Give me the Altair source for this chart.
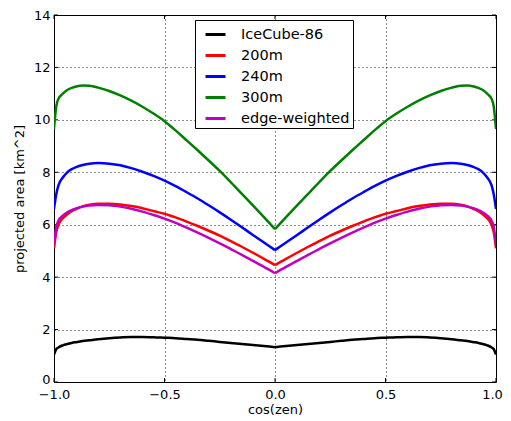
import altair as alt
import pandas as pd

x_vals = [-1.0, -0.99, -0.98, -0.96, -0.94, -0.92, -0.9, -0.87, -0.84, -0.8, -0.75, -0.7, -0.65,
          -0.6, -0.55, -0.5, -0.45, -0.4, -0.35, -0.3, -0.25, -0.2, -0.15, -0.1, -0.05, 0.0,
          0.05, 0.1, 0.15, 0.2, 0.25, 0.3, 0.35, 0.4, 0.45, 0.5, 0.55, 0.6, 0.65, 0.7, 0.75,
          0.8, 0.84, 0.87, 0.9, 0.92, 0.94, 0.96, 0.98, 0.99, 1.0]

icecube = [1.05, 1.25, 1.32, 1.4, 1.45, 1.49, 1.52, 1.56, 1.59, 1.63, 1.67, 1.7, 1.72,
           1.72, 1.71, 1.69, 1.67, 1.64, 1.61, 1.57, 1.53, 1.49, 1.45, 1.41, 1.37, 1.33,
           1.37, 1.41, 1.45, 1.49, 1.53, 1.57, 1.61, 1.64, 1.67, 1.69, 1.71, 1.72, 1.72, 1.7, 1.67,
           1.63, 1.59, 1.56, 1.52, 1.49, 1.45, 1.4, 1.32, 1.25, 1.05]
m200 = [5.1, 5.7, 6.0, 6.25, 6.4, 6.52, 6.6, 6.7, 6.76, 6.8, 6.8, 6.77, 6.71,
        6.63, 6.52, 6.42, 6.28, 6.12, 5.95, 5.77, 5.58, 5.37, 5.16, 4.93, 4.7, 4.46,
        4.7, 4.93, 5.16, 5.37, 5.58, 5.77, 5.95, 6.12, 6.28, 6.42, 6.52, 6.63, 6.71, 6.77, 6.8,
        6.8, 6.76, 6.7, 6.6, 6.52, 6.4, 6.25, 6.0, 5.7, 5.1]
m240 = [6.6, 7.15, 7.5, 7.8, 8.0, 8.12, 8.2, 8.28, 8.33, 8.35, 8.33, 8.27, 8.16,
        8.02, 7.86, 7.68, 7.47, 7.24, 7.0, 6.74, 6.47, 6.19, 5.9, 5.61, 5.32, 5.03,
        5.32, 5.61, 5.9, 6.19, 6.47, 6.74, 7.0, 7.24, 7.47, 7.68, 7.86, 8.02, 8.16, 8.27, 8.33,
        8.35, 8.33, 8.28, 8.2, 8.12, 8.0, 7.8, 7.5, 7.15, 6.6]
m300 = [9.65, 10.5, 10.8, 11.0, 11.14, 11.22, 11.27, 11.31, 11.3, 11.23, 11.1, 10.93, 10.73,
        10.5, 10.24, 9.95, 9.6, 9.22, 8.84, 8.45, 8.05, 7.62, 7.18, 6.74, 6.29, 5.83,
        6.29, 6.74, 7.18, 7.62, 8.05, 8.45, 8.84, 9.22, 9.6, 9.95, 10.24, 10.5, 10.73, 10.93, 11.1,
        11.23, 11.3, 11.31, 11.27, 11.22, 11.14, 11.0, 10.8, 10.5, 9.65]
edge = [5.25, 5.9, 6.15, 6.35, 6.47, 6.56, 6.62, 6.69, 6.73, 6.75, 6.74, 6.69, 6.61,
        6.5, 6.37, 6.23, 6.07, 5.89, 5.7, 5.5, 5.29, 5.07, 4.85, 4.62, 4.39, 4.15,
        4.39, 4.62, 4.85, 5.07, 5.29, 5.5, 5.7, 5.89, 6.07, 6.23, 6.37, 6.5, 6.61, 6.69, 6.74,
        6.75, 6.73, 6.69, 6.62, 6.56, 6.47, 6.35, 6.15, 5.9, 5.25]

series_names = ["IceCube-86", "200m", "240m", "300m", "edge-weighted"]
series_colors = ["#000000", "#ff0000", "#0000ff", "#008000", "#bf00bf"]
series_values = [icecube, m200, m240, m300, edge]

x_ticks = [-1.0, -0.5, 0.0, 0.5, 1.0]
y_ticks = [0, 2, 4, 6, 8, 10, 12, 14]

# each curve is split into its left and right half at the cusp (x = 0),
# so the smooth interpolation keeps the sharp V at the centre
rows = []
for name, vals in zip(series_names, series_values):
    for i, (xv, yv) in enumerate(zip(x_vals, vals)):
        if xv <= 0:
            rows.append({"series": name, "x": xv, "y": yv, "i": i, "part": name + "-L"})
        if xv >= 0:
            rows.append({"series": name, "x": xv, "y": yv, "i": i, "part": name + "-R"})
df = pd.DataFrame(rows)

W, H = 442, 367
FONT = "DejaVu Sans"

xscale = alt.Scale(domain=[-1, 1], nice=False, zero=False)
yscale = alt.Scale(domain=[0, 14], nice=False)

lines = alt.Chart(df).mark_line(strokeWidth=2.5, clip=True, interpolate="monotone").encode(
    x=alt.X("x:Q", scale=xscale, title="cos(zen)",
            axis=alt.Axis(values=x_ticks, labelFlush=False, labelOverlap=False, labelPadding=6,
                          labelOffset={"condition": {"test": "datum.value == 1", "value": -4},
                                       "value": 0},
                          labelExpr="replace(format(datum.value, '.1f'), '-', '\u2212')")),
    y=alt.Y("y:Q", scale=yscale, title="projected area [km^2]",
            axis=alt.Axis(values=y_ticks, format="d", labelFlush=False, labelOverlap=False,
                          labelOffset={"condition": {"test": "datum.value == 0", "value": -3},
                                       "value": 0})),
    color=alt.Color("series:N",
                    scale=alt.Scale(domain=series_names, range=series_colors),
                    legend=alt.Legend(title=None, orient="none", legendX=141, legendY=5,
                                      symbolType="stroke", symbolSize=400, symbolStrokeWidth=3,
                                      labelFontSize=14.5, labelFont=FONT, labelColor="black",
                                      strokeColor="black", fillColor="white", padding=3,
                                      symbolOffset=6, labelOffset=14, rowPadding=3,
                                      cornerRadius=0)),
    detail="part:N",
    order="i:Q",
)

xt = pd.DataFrame({"t": x_ticks})
yt = pd.DataFrame({"t": y_ticks})
xb = alt.Chart(xt).mark_rule(color="black", strokeWidth=1).encode(
    x=alt.X("t:Q", scale=xscale), y=alt.value(H), y2=alt.value(H - 4))
xtp = alt.Chart(xt).mark_rule(color="black", strokeWidth=1).encode(
    x=alt.X("t:Q", scale=xscale), y=alt.value(0), y2=alt.value(4))
yl = alt.Chart(yt).mark_rule(color="black", strokeWidth=1).encode(
    y=alt.Y("t:Q", scale=yscale), x=alt.value(0), x2=alt.value(4))
yr = alt.Chart(yt).mark_rule(color="black", strokeWidth=1).encode(
    y=alt.Y("t:Q", scale=yscale), x=alt.value(W), x2=alt.value(W - 4))

chart = alt.layer(xb, xtp, yl, yr, lines).properties(
    width=W, height=H,
    autosize=alt.AutoSizeParams(type="none"),
    padding={"left": 46, "top": 7, "right": 7, "bottom": 39},
).configure_view(stroke="black", strokeWidth=1).configure_axis(
    domain=False, ticks=False, grid=True, gridColor="black", gridDash=[1, 3],
    gridWidth=1, gridOpacity=0.9,
    labelFont=FONT, labelFontSize=13, labelColor="black", labelPadding=4,
    titleFont=FONT, titleFontSize=13, titleColor="black", titleFontWeight="normal",
).configure_axisX(titlePadding=2).configure_axisY(titlePadding=7)

chart.save("out.html", embed_options={"renderer": "svg", "actions": False})
